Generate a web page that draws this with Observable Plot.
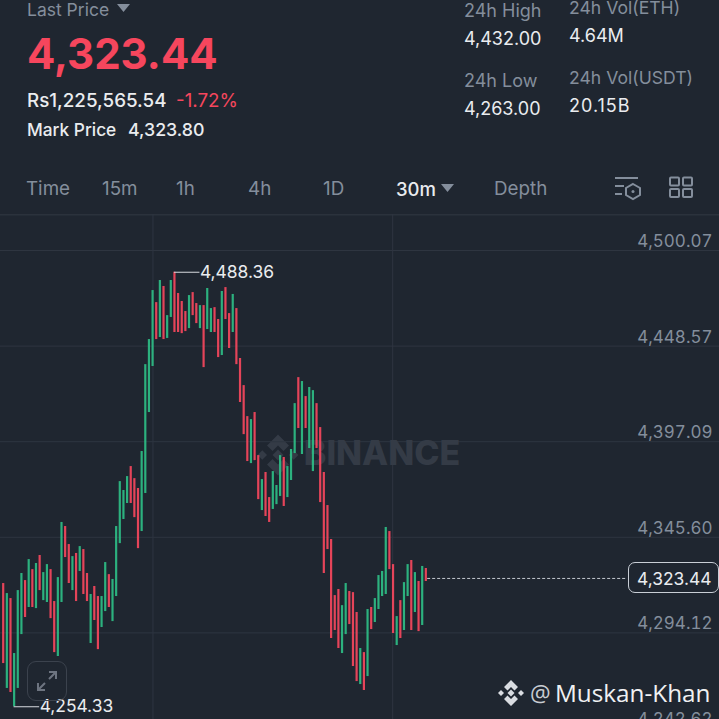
<!DOCTYPE html>
<html><head><meta charset="utf-8">
<script src="https://cdn.jsdelivr.net/npm/d3@7"></script>
<script src="https://cdn.jsdelivr.net/npm/@observablehq/plot@0.6"></script>
<style>
html,body{margin:0;padding:0;background:#1f2630;width:719px;height:719px;overflow:hidden;font-family:Inter,"Open Sans",sans-serif}
#page{position:relative;width:719px;height:719px;overflow:hidden}
.t{position:absolute;white-space:nowrap;transform:translateY(-50%);line-height:1;font-size:18px;color:#848e9c}
.w{color:#eaecef}.r{color:#f6465d}.tab{font-size:18.8px;top:189px}
#chart{position:absolute;left:0;top:214px;width:719px;height:505px;overflow:hidden}
#chart svg{display:block;max-width:none}
svg.i{position:absolute;overflow:visible}
#tag{position:absolute;left:628px;top:562px;width:91px;height:31px;box-sizing:border-box;border:1px solid #c9ced6;border-radius:7px;background:#1f2630;color:#eaecef;font-size:17.400px;line-height:31px;padding-left:8px}
#expand{position:absolute;left:27px;top:661px;width:40px;height:40px;box-sizing:border-box;border:1.500px solid #3b424d;border-radius:9px}
</style></head><body>
<div id="page">
<div class="t" style="left:27px;top:10px;font-size:17.500px">Last Price</div>
<svg class="i" style="left:117px;top:4px" width="13" height="9"><path d="M0 0H13L6.500 8Z" fill="#848e9c"/></svg>
<div class="t r" style="left:27px;top:54px;font-size:42px;font-weight:700">4,323.44</div>
<div class="t w" style="left:27px;top:101px;font-size:18.800px;font-weight:500">Rs1,225,565.54</div>
<div class="t r" style="left:176px;top:101px;font-size:18.800px">-1.72%</div>
<div class="t w" style="left:27px;top:129.500px;font-size:17.300px;font-weight:500">Mark Price</div>
<div class="t w" style="left:128px;top:129.500px;font-size:17.800px;font-weight:500">4,323.80</div>
<div class="t" style="left:464px;top:11px">24h High</div>
<div class="t w" style="left:464px;top:38.500px">4,432.00</div>
<div class="t" style="left:464px;top:81px">24h Low</div>
<div class="t w" style="left:464px;top:108.500px">4,263.00</div>
<div class="t" style="left:569px;top:8px;font-size:17.600px">24h Vol(ETH)</div>
<div class="t w" style="left:569px;top:35.500px">4.64M</div>
<div class="t" style="left:569px;top:78px;font-size:17.600px">24h Vol(USDT)</div>
<div class="t w" style="left:569px;top:105.500px;letter-spacing:1px">20.15B</div>
<div class="t tab" style="left:26px">Time</div>
<div class="t tab" style="left:102px">15m</div>
<div class="t tab" style="left:176px">1h</div>
<div class="t tab" style="left:248px">4h</div>
<div class="t tab" style="left:323px">1D</div>
<div class="t w" style="left:396px;top:189px;font-weight:500;font-size:18.500px">30m</div>
<svg class="i" style="left:441px;top:184px" width="13" height="8"><path d="M0 0H13L6.500 8Z" fill="#848e9c"/></svg>
<div class="t tab" style="left:494px">Depth</div>
<svg class="i" style="left:615px;top:177px" width="26" height="23" fill="none" stroke="#848e9c" stroke-width="2"><path d="M0 1H23M0 9H9M0 17H7"/><path d="M18 7L25 11V18L18 22L11 18V11Z"/><circle cx="18" cy="14.500" r="1.500" fill="#848e9c" stroke="none"/></svg>
<svg class="i" style="left:669px;top:176px" width="24" height="24" fill="none" stroke="#848e9c" stroke-width="2"><rect x="1" y="1.500" width="9" height="8" rx="1"/><rect x="14" y="1.500" width="9" height="8" rx="1"/><rect x="1" y="13" width="9" height="8" rx="1"/><rect x="14" y="13" width="9" height="8" rx="1"/></svg>
<svg class="i" style="left:256px;top:433px" width="44" height="44" viewBox="0 0 28 28" fill="#343b46"><path d="M14 1L21 8L17.500 11.500L14 8L10.500 11.500L7 8Z"/><path d="M14 27L7 20L10.500 16.500L14 20L17.500 16.500L21 20Z"/><path d="M1 14L4 11L7 14L4 17Z"/><path d="M27 14L24 11L21 14L24 17Z"/><path d="M14 10.500L17.500 14L14 17.500L10.500 14Z"/></svg>
<div id="chart"></div>
<div id="expand"></div>
<svg class="i" style="left:35px;top:669px" width="24" height="24" fill="none" stroke="#6d7480" stroke-width="2"><path d="M3 21L10 14M14 10L21 3M14 3H21V10M3 14V21H10"/></svg>
<div id="tag">4,323.44</div>
<svg class="i" style="left:497px;top:679px" width="28" height="28" fill="#d9dce1"><path d="M14 1L21 8L17.500 11.500L14 8L10.500 11.500L7 8Z"/><path d="M14 27L7 20L10.500 16.500L14 20L17.500 16.500L21 20Z"/><path d="M1 14L4 11L7 14L4 17Z"/><path d="M27 14L24 11L21 14L24 17Z"/><path d="M14 10.500L17.500 14L14 17.500L10.500 14Z"/></svg>
<div class="t" style="left:530px;top:693px;font-size:23px;font-family:'Open Sans';color:#c8ccd2">@</div>
<div class="t" style="left:555px;top:693px;font-size:24.300px;font-family:'Open Sans';font-weight:500;color:#f0f1f3">Muskan-Khan</div>
</div>
<script>
const high=[4320.7,4315.3,4312.6,4283.0,4316.9,4326.1,4322.3,4333.6,4328.2,4331.5,4335.8,4326.6,4330.9,4328.2,4311.0,4323.9,4353.6,4351.4,4341.7,4335.2,4336.9,4340.6,4339.0,4326.1,4314.8,4319.1,4313.7,4313.7,4332.0,4325.5,4322.9,4351.4,4375.6,4370.8,4378.3,4383.7,4377.2,4371.9,4391.8,4438.6,4452.1,4478.5,4472.0,4483.9,4480.7,4465.0,4483.9,4488.36,4476.9,4472.6,4467.2,4475.8,4477.4,4471.5,4470.4,4470.4,4479.6,4468.8,4469.3,4462.9,4478.0,4480.1,4466.1,4476.4,4468.8,4441.9,4427.3,4410.6,4409.0,4412.8,4389.6,4376.7,4380.5,4367.0,4381.0,4373.5,4389.6,4388.6,4383.7,4392.9,4417.6,4431.6,4429.5,4421.4,4426.3,4424.6,4417.6,4404.7,4380.5,4362.7,4344.4,4314.2,4317.5,4308.8,4320.7,4316.4,4315.8,4305.1,4285.7,4283.5,4306.7,4307.8,4312.6,4325.0,4327.2,4350.9,4348.7,4330.9,4302.9,4311.5,4321.2,4330.9,4333.1,4326.6,4321.8,4329.9,4328.8];
const low=[4277.6,4264.2,4262.0,4254.33,4264.2,4293.2,4302.4,4307.8,4307.8,4307.2,4316.9,4311.5,4310.5,4301.8,4283.5,4281.4,4310.5,4334.7,4320.7,4316.9,4311.0,4327.2,4314.8,4311.0,4288.4,4300.8,4285.1,4297.0,4305.6,4307.8,4300.2,4313.7,4342.2,4355.2,4363.8,4363.8,4356.2,4339.5,4348.7,4369.2,4412.8,4437.6,4452.1,4453.2,4452.1,4452.7,4464.0,4455.9,4455.9,4455.3,4456.4,4458.0,4465.0,4460.7,4458.0,4437.0,4457.5,4455.9,4455.9,4442.4,4443.5,4462.9,4447.3,4455.9,4438.6,4418.2,4400.9,4386.4,4385.3,4386.9,4365.9,4360.0,4356.8,4353.6,4360.6,4363.2,4367.6,4362.2,4367.0,4376.2,4390.7,4404.2,4390.2,4404.2,4393.4,4381.0,4393.4,4364.3,4326.1,4339.0,4291.1,4295.4,4285.7,4283.0,4293.2,4298.6,4276.0,4267.9,4266.3,4263.1,4270.6,4295.9,4299.7,4306.7,4313.7,4314.8,4328.2,4293.8,4287.3,4291.1,4295.4,4313.7,4295.4,4305.1,4294.8,4298.1,4321.8];
const direction="d u d u u u d u d u d u u d d u u d d u d u d d u d d u u d u u u u u d d d u u u u d u d u u d d d d u d d u d u u d d u d d u d d d d u d d u d d u u u d u u u d u d u u d d d d d d d u u d d d u d u d u u u u d d u d u u d u d u d".split(" ");
const priceTicks=[4500.07,4448.57,4397.09,4345.60,4294.12,4242.62];
const timeTicks=[41.1,106.9];
const lastPrice=4323.44, maxCandle=47, minCandle=3, maxPrice=4488.36, minPrice=4254.33;
const xDomain=[-0.741,196.6], yDomain=[4247.47,4519.46];
const watermarkAt={i:82.5,price:4390.3};
const fmt=d3.format(",.2f");
const candles=high.map((h,i)=>({i,h,l:low[i],d:direction[i]}));
const green="#2ebd85", red="#f6465d";
const chart=Plot.plot({
  width:719,height:505,margin:0,
  style:{background:"transparent",fontFamily:"Inter,'Open Sans',sans-serif"},
  x:{domain:xDomain,range:[0,719],axis:null},
  y:{domain:yDomain,range:[505,0],axis:null},
  marks:[
    Plot.ruleY([yDomain[1]],{stroke:"#2b323c",strokeWidth:2}),
    Plot.ruleY(priceTicks,{stroke:"#2e3540",strokeWidth:1}),
    Plot.ruleX(timeTicks,{stroke:"#2e3540",strokeWidth:1}),
    Plot.text(["BINANCE"],{x:[watermarkAt.i],y:[watermarkAt.price],textAnchor:"start",fontSize:34,fontWeight:800,fill:"#343b46"}),
    Plot.ruleX(candles,{x:"i",y1:"l",y2:"h",stroke:d=>d.d==="u"?green:red,strokeWidth:2.2,strokeOpacity:0.92}),
    Plot.ruleY([lastPrice],{x1:116.5,x2:171.4,stroke:"#c4c9d0",strokeDasharray:"3 2",strokeWidth:1}),
    Plot.ruleY([maxPrice],{x1:maxCandle,x2:maxCandle+7,stroke:"#d8dbe0",strokeWidth:1}),
    Plot.ruleY([minPrice],{x1:minCandle,x2:minCandle+7,stroke:"#d8dbe0",strokeWidth:1}),
    Plot.text([maxPrice],{x:maxCandle+7,y:d=>d,text:fmt,textAnchor:"start",dx:0,fontSize:17.4,fill:"#eaecef"}),
    Plot.text([minPrice],{x:minCandle+7,y:d=>d,text:fmt,textAnchor:"start",dx:0,fontSize:17.4,fill:"#eaecef"}),
    Plot.axisY({anchor:"right",ticks:priceTicks,tickFormat:fmt,tickSize:0,tickPadding:-7,textAnchor:"end",dy:-9,fontSize:17,fill:"#848e9c",label:null})
  ]
});
document.getElementById("chart").appendChild(chart);
</script>
</body></html>
